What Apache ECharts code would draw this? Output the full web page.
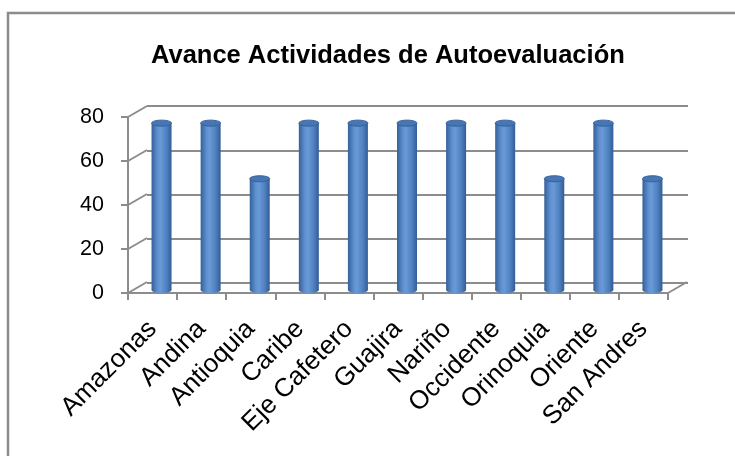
<!DOCTYPE html>
<html>
<head>
<meta charset="utf-8">
<script src="https://cdn.jsdelivr.net/npm/echarts@6/dist/echarts.min.js"></script>
<style>
  html, body { margin: 0; padding: 0; background: #fff; }
  #main { width: 735px; height: 456px; }
</style>
</head>
<body>
<div id="main"></div>
<script>
var regiones = ['Amazonas', 'Andina', 'Antioquia', 'Caribe', 'Eje Cafetero', 'Guajira',
  'Nariño', 'Occidente', 'Orinoquia', 'Oriente', 'San Andres'];
var avance = [75, 75, 50, 75, 75, 75, 75, 75, 50, 75, 50];
var yTicks = [0, 20, 40, 60, 80];

var chart = echarts.init(document.getElementById('main'));
var gris = '#8c8c8c';
var fuente = '"Liberation Sans", Arial, sans-serif';
// desplazamiento de la pared del fondo (efecto 3D)
var dx = 19, dy = -11;

var cuerpo = new echarts.graphic.LinearGradient(0, 0, 1, 0, [
  { offset: 0, color: '#34609a' },
  { offset: 0.3, color: '#5f90cf' },
  { offset: 0.45, color: '#6a9ad6' },
  { offset: 0.75, color: '#4f80c0' },
  { offset: 1, color: '#335d95' }
]);

function cilindro(params, api) {
  var top = api.coord([api.value(0), api.value(1)]);
  var base = api.coord([api.value(0), 0]);
  var w = 20, eh = 6;
  return {
    type: 'group',
    children: [
      { type: 'ellipse', shape: { cx: top[0], cy: base[1], rx: w / 2, ry: eh / 2 }, style: { fill: cuerpo } },
      { type: 'rect', shape: { x: top[0] - w / 2, y: top[1], width: w, height: base[1] - top[1] }, style: { fill: cuerpo } },
      { type: 'ellipse', shape: { cx: top[0], cy: top[1], rx: w / 2, ry: eh / 2 },
        style: { fill: '#4676b3', stroke: '#35619b', lineWidth: 1 } }
    ]
  };
}

function diagonales(params, api) {
  var cs = params.coordSys;
  var p = api.coord([0, api.value(1)]);
  var lines = [{ type: 'line', shape: { x1: cs.x, y1: p[1], x2: cs.x + dx, y2: p[1] + dy },
    style: { stroke: gris, lineWidth: 2 } }];
  if (api.value(1) === 0) {
    lines.push({ type: 'line', shape: { x1: cs.x + cs.width, y1: p[1], x2: cs.x + cs.width + dx, y2: p[1] + dy },
      style: { stroke: gris, lineWidth: 2 } });
  }
  return { type: 'group', children: lines };
}

var option = {
  backgroundColor: '#fff',
  animation: false,
  title: {
    text: 'Avance Actividades de Autoevaluación',
    left: 146,
    top: 38,
    textStyle: { fontFamily: fuente, fontWeight: 'bold', fontSize: 25.5, color: '#000' }
  },
  graphic: [{
    type: 'polyline',
    shape: { points: [[8, 456], [8, 13], [735, 13]] },
    style: { stroke: gris, lineWidth: 2.5, fill: null }
  }],
  grid: [
    { left: 128, width: 540, top: 117, height: 176 },
    { left: 147, width: 541, top: 106, height: 177 },
    { left: 137, width: 540, top: 112, height: 178 }
  ],
  xAxis: [
    {
      type: 'category', gridIndex: 0, data: regiones,
      axisLine: { lineStyle: { color: gris, width: 2 } },
      axisTick: { show: true, interval: 0, length: 7, lineStyle: { color: gris, width: 2 } },
      axisLabel: { interval: 0, rotate: 45, margin: 32, fontFamily: fuente, fontSize: 26, color: '#000' }
    },
    { type: 'category', gridIndex: 1, data: regiones, show: false },
    { type: 'category', gridIndex: 2, data: regiones, show: false }
  ],
  yAxis: [
    {
      type: 'value', gridIndex: 0, min: 0, max: 80, interval: 20,
      axisLine: { show: true, lineStyle: { color: gris, width: 2 } },
      axisTick: { show: true, length: 7, lineStyle: { color: gris, width: 2 } },
      axisLabel: { margin: 24, fontFamily: fuente, fontSize: 21.5, color: '#000' },
      splitLine: { show: false }
    },
    {
      type: 'value', gridIndex: 1, min: 0, max: 80, interval: 20,
      axisLine: { show: false }, axisTick: { show: false }, axisLabel: { show: false },
      splitLine: { show: true, lineStyle: { color: gris, width: 2 } }
    },
    { type: 'value', gridIndex: 2, min: 0, max: 80, interval: 20, show: false, splitLine: { show: false } }
  ],
  series: [
    {
      type: 'custom', xAxisIndex: 0, yAxisIndex: 0,
      data: yTicks.map(function (v) { return [0, v]; }),
      renderItem: diagonales, silent: true, z: 1
    },
    {
      type: 'custom', xAxisIndex: 2, yAxisIndex: 2,
      data: avance.map(function (v, i) { return [i, v]; }),
      renderItem: cilindro, z: 3
    }
  ]
};

chart.setOption(option);
</script>
</body>
</html>
